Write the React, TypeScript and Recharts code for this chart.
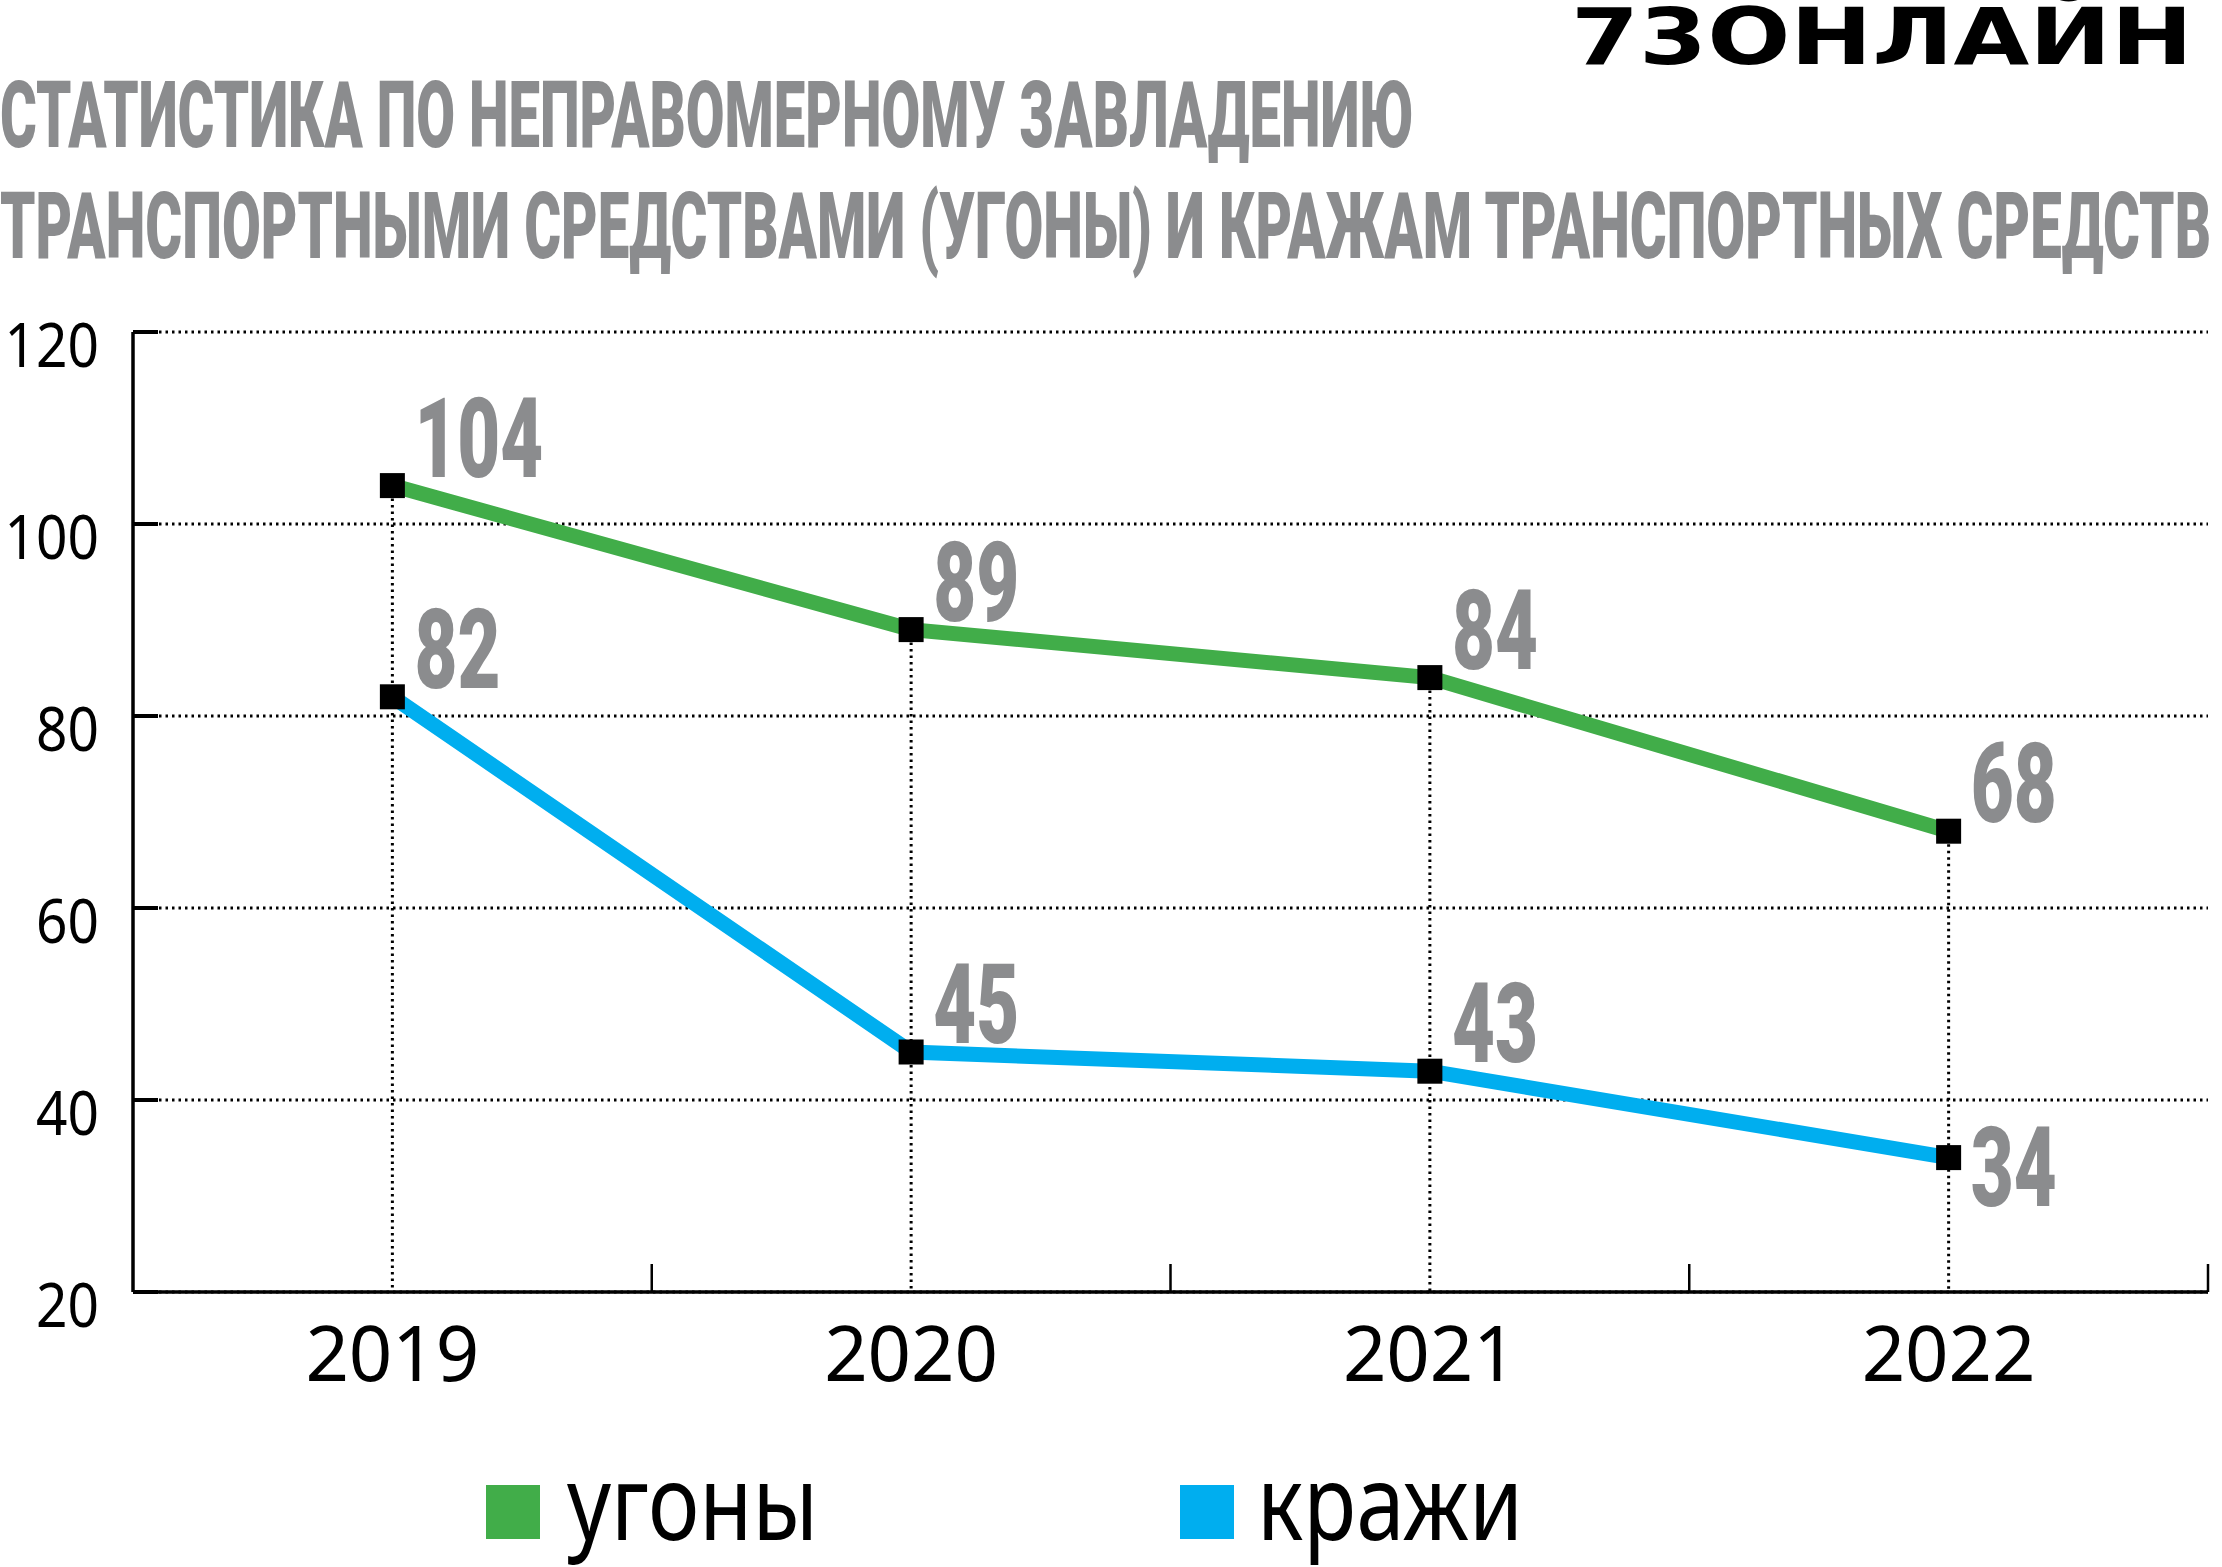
import React from "react";
import {
    LineChart,
    Line,
    XAxis,
    YAxis,
    CartesianGrid,
    ReferenceLine,
    LabelList
} from "recharts";

const years = ["2019", "2020", "2021", "2022"];
const ugony = [104, 89, 84, 68];
const krazhi = [82, 45, 43, 34];
const yTicks = [20, 40, 60, 80, 100, 120];
const seriesNames = ["угоны", "кражи"];
const titleLines = [
    "СТАТИСТИКА ПО НЕПРАВОМЕРНОМУ ЗАВЛАДЕНИЮ",
    "ТРАНСПОРТНЫМИ СРЕДСТВАМИ (УГОНЫ) И КРАЖАМ ТРАНСПОРТНЫХ СРЕДСТВ"
];
const logoText = "73ОНЛАЙН";

const data = years.map((year, i) => ({year, ugony: ugony[i], krazhi: krazhi[i]}));

const GREEN = "#41ad49";
const BLUE = "#00aeef";
const GRAY = "#8b8c8e";

const W = 2222;
const H = 1567;

const SquareDot = (props: any) => {
    const {cx, cy} = props;
    if (cx == null || cy == null) return null;
    return <rect x={cx - 12.5} y={cy - 12.5} width={25} height={25} fill="#000"/>;
};

// value labels, the last blue one sits to the right of its marker
const valueLabel = (lowIndex: number) => (props: any) => {
    const {x, y, value, index} = props;
    const s = String(value);
    const dy = index === lowIndex ? 48 : -9;
    return (
        <text x={x + 22} y={y + dy} fontFamily="Roboto" fontWeight={900} fontSize={112}
              fill={GRAY} textLength={s.length * 43} lengthAdjust="spacingAndGlyphs">{s}</text>
    );
};

const YTick = (props: any) => {
    const {x, y, payload} = props;
    const s = String(payload.value);
    return (
        <g>
            <line x1={x + 34} x2={x + 59} y1={y} y2={y} stroke="#000" strokeWidth={4}/>
            <text x={x} y={y + 35} textAnchor="end" fontFamily="Noto Sans" fontSize={62} fill="#000"
                  textLength={s.length * 31.5} lengthAdjust="spacingAndGlyphs">{s}</text>
        </g>
    );
};

const XTick = (props: any) => {
    const {x, y, payload} = props;
    const half = payload.offset || 259;
    const s = String(payload.value);
    return (
        <g>
            <line x1={x + half} x2={x + half} y1={y} y2={y - 28} stroke="#000" strokeWidth={2.5}/>
            <text x={x} y={y + 89} textAnchor="middle" fontFamily="Noto Sans" fontSize={76} fill="#000"
                  textLength={s.length * 43.5} lengthAdjust="spacingAndGlyphs">{s}</text>
        </g>
    );
};

export default function App() {
    return (
        <div style={{position: "absolute", left: 0, top: 0, width: W, height: H, background: "#fff"}}>
            <LineChart
                width={W}
                height={H}
                data={data}
                margin={{top: 332, right: 14, bottom: 0, left: 0}}
                style={{position: "absolute", left: 0, top: 0}}
            >
                <CartesianGrid vertical={false} stroke="#000" strokeWidth={3} strokeDasharray="2.5 4"/>
                <XAxis dataKey="year" scale="band" height={275} tickSize={0} tickMargin={0} interval={0}
                       tickLine={false} axisLine={{stroke: "#000", strokeWidth: 3.5}} tick={<XTick/>}/>
                <YAxis type="number" domain={[20, 120]} ticks={yTicks} width={133} tickSize={0} tickMargin={34}
                       tickLine={false} axisLine={{stroke: "#000", strokeWidth: 3.5}} tick={<YTick/>}
                       allowDataOverflow/>
                {years.map((yr, i) => (
                    <ReferenceLine key={yr}
                                   segment={[{x: yr, y: Math.max(ugony[i], krazhi[i])}, {x: yr, y: yTicks[0]}]}
                                   stroke="#000" strokeWidth={3} strokeDasharray="2.5 4"/>
                ))}
                <Line type="linear" dataKey="ugony" name={seriesNames[0]} stroke={GREEN} strokeWidth={15}
                      dot={<SquareDot/>} activeDot={false} isAnimationActive={false}>
                    <LabelList dataKey="ugony" content={valueLabel(-1)}/>
                </Line>
                <Line type="linear" dataKey="krazhi" name={seriesNames[1]} stroke={BLUE} strokeWidth={15}
                      dot={<SquareDot/>} activeDot={false} isAnimationActive={false}>
                    <LabelList dataKey="krazhi" content={valueLabel(krazhi.length - 1)}/>
                </Line>
            </LineChart>
            <svg width={W} height={H} style={{position: "absolute", left: 0, top: 0, pointerEvents: "none"}}>
                <text x={1571} y={64} fontFamily="DejaVu Sans" fontWeight={700} fontSize={78} fill="#000"
                      textLength={622} lengthAdjust="spacingAndGlyphs">{logoText}</text>
                <text x={0} y={147} fontFamily="Roboto" fontWeight={900} fontSize={93} fill={GRAY}
                      textLength={1414} lengthAdjust="spacingAndGlyphs">{titleLines[0]}</text>
                <text x={0} y={258} fontFamily="Roboto" fontWeight={900} fontSize={93} fill={GRAY}
                      textLength={2211} lengthAdjust="spacingAndGlyphs">{titleLines[1]}</text>
                <rect x={486} y={1485} width={54} height={54} fill={GREEN}/>
                <text x={567} y={1540} fontFamily="Noto Sans" fontSize={104} fill="#000"
                      textLength={251} lengthAdjust="spacingAndGlyphs">{seriesNames[0]}</text>
                <rect x={1180} y={1485} width={54} height={54} fill={BLUE}/>
                <text x={1257} y={1540} fontFamily="Noto Sans" fontSize={104} fill="#000"
                      textLength={266} lengthAdjust="spacingAndGlyphs">{seriesNames[1]}</text>
            </svg>
        </div>
    );
}
